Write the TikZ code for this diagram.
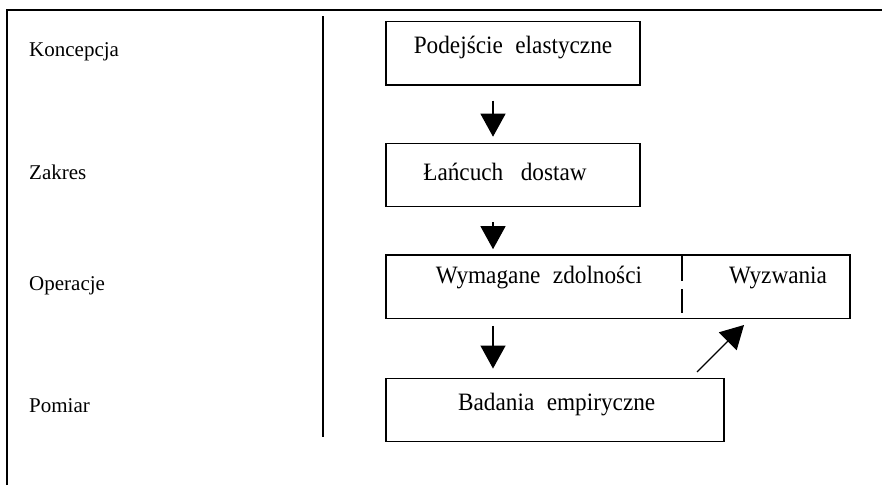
\documentclass[tikz,border=0pt]{standalone}
\usepackage{fontspec}
\setmainfont{Liberation Serif}
\newfontfamily\boxfont{Liberation Serif}[FakeStretch=0.93]
\usetikzlibrary{arrows.meta}
\begin{document}
\begin{tikzpicture}[x=1pt,y=-1pt,
  box/.style={draw, line width=1.2pt, rectangle, inner sep=0pt},
  boxtxt/.style={anchor=base, inner sep=0pt, font=\boxfont\fontsize{25}{29}\selectfont},
  lbl/.style={anchor=base west, inner sep=0pt, font=\fontsize{21}{25}\selectfont},
  arr/.style={line width=1.2pt, -{Triangle[length=23pt,width=25pt]}},
  rule/.style={line width=1.7pt}]
\useasboundingbox (0,0) rectangle (882,485);
% outer frame (top and left only)
\draw[line width=2.2pt] (7,485) -- (7,10) -- (882,10);
% column divider
\draw[rule] (323,16) -- (323,437);
% left labels
\node[lbl] (l1) at (29,56) {Koncepcja};
\node[lbl] (l2) at (29,179) {Zakres};
\node[lbl] (l3) at (29,290) {Operacje};
\node[lbl] (l4) at (29,412) {Pomiar};
% boxes
\node[box, minimum width=254pt, minimum height=63.3pt] (b1) at (513,53.3) {};
\node[box, minimum width=254pt, minimum height=63.4pt] (b2) at (513,175) {};
\node[box, line width=1.7pt, minimum width=464pt, minimum height=63.3pt] (b3) at (618,286.7) {};
\node[box, minimum width=338pt, minimum height=63.7pt] (b4) at (555,410) {};
% box texts
\node[boxtxt] (t1) at (513,53.3) {Podejście\hspace{0.5em}elastyczne};
\node[boxtxt] (t2) at (505,180) {Łańcuch\hspace{0.7em}dostaw};
\node[boxtxt] (t3) at (539,283.3) {Wymagane\hspace{0.5em}zdolności};
\node[boxtxt] (t4) at (778,283.3) {Wyzwania};
\node[boxtxt] (t5) at (556.7,410) {Badania\hspace{0.5em}empiryczne};
% split inside box 3
\draw[rule] (681.7,255) -- (681.7,281);
\draw[rule] (681.7,289) -- (681.7,313);
% arrows
\coordinate (ax) at (493,0);
\draw[arr, shorten <=15pt, shorten >=6pt] (b1.south -| ax) -- (b2.north -| ax);
\draw[arr, shorten <=15pt, shorten >=5pt] (b2.south -| ax) -- (b3.north -| ax);
\draw[arr, shorten <=6.7pt, shorten >=9pt] (b3.south -| ax) -- (b4.north -| ax);
\coordinate (d0) at (697,372);
\coordinate (d1) at (744,325);
\draw[arr] (d0) -- (d1);
\end{tikzpicture}
\end{document}
